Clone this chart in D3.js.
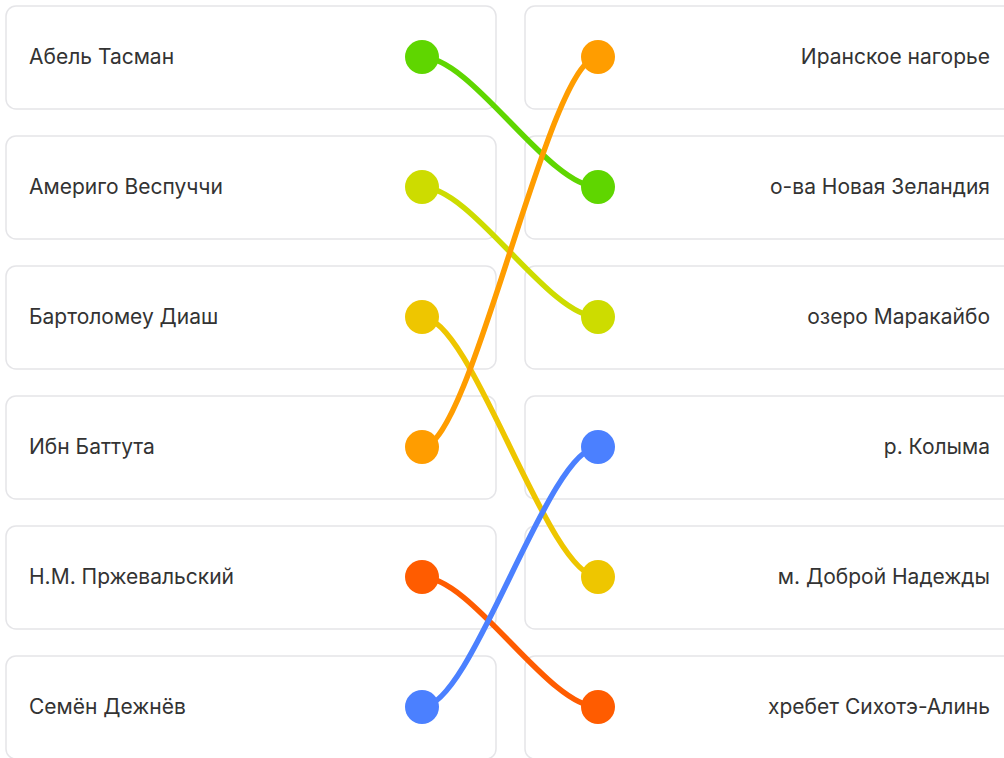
<!DOCTYPE html>
<html>
<head>
<meta charset="utf-8">
<script src="https://cdn.jsdelivr.net/npm/d3@7"></script>
<style>
  html, body { margin: 0; padding: 0; background: #fff; overflow: hidden; }
  svg { display: block; }
</style>
</head>
<body>
<svg id="chart" width="1004" height="758"></svg>
<script>
const leftItems = ["Абель Тасман", "Америго Веспуччи", "Бартоломеу Диаш", "Ибн Баттута", "Н.М. Пржевальский", "Семён Дежнёв"];
const rightItems = ["Иранское нагорье", "о-ва Новая Зеландия", "озеро Маракайбо", "р. Колыма", "м. Доброй Надежды", "хребет Сихотэ-Алинь"];
// matches: left index -> right index
const matches = [1, 2, 4, 0, 5, 3];
const matchColors = ["#5fd600", "#cddc00", "#eec600", "#ff9d00", "#ff5c00", "#4b80ff"];

const svg = d3.select("#chart");
const y = d3.scalePoint().domain(d3.range(leftItems.length)).range([57, 707]);
const boxH = 103, boxR = 10;
const leftBox = {x: 6, w: 490}, rightBox = {x: 525, w: 500};
const leftDotX = 422, rightDotX = 598, dotR = 17, ctrl = 50;

// boxes
const boxes = svg.append("g");
[leftBox, rightBox].forEach(b => {
  boxes.selectAll(null).data(d3.range(leftItems.length)).join("rect")
    .attr("x", b.x).attr("y", i => y(i) - boxH / 2 + 0.5)
    .attr("width", b.w).attr("height", boxH)
    .attr("rx", boxR).attr("ry", boxR)
    .attr("fill", "#fff").attr("stroke", "#e5e5e8").attr("stroke-width", 1.5);
});

// labels
svg.append("g").selectAll("text").data(leftItems).join("text")
  .attr("x", 29).attr("y", (d, i) => y(i)).attr("dy", "0.35em")
  .attr("font-family", "Inter, 'Noto Sans', sans-serif").attr("font-size", 21)
  .attr("fill", "#333").text(d => d);
svg.append("g").selectAll("text").data(rightItems).join("text")
  .attr("x", 990).attr("y", (d, i) => y(i)).attr("dy", "0.35em")
  .attr("text-anchor", "end")
  .attr("font-family", "Inter, 'Noto Sans', sans-serif").attr("font-size", 21)
  .attr("fill", "#333").text(d => d);

// links
svg.append("g").selectAll("path").data(matches).join("path")
  .attr("d", (r, i) => {
    const p = d3.path();
    const y1 = y(i), y2 = y(r);
    p.moveTo(leftDotX, y1);
    p.bezierCurveTo(leftDotX + ctrl, y1, rightDotX - ctrl, y2, rightDotX, y2);
    return p.toString();
  })
  .attr("fill", "none").attr("stroke", (r, i) => matchColors[i])
  .attr("stroke-width", 5.5).attr("stroke-linecap", "round");

// dots
svg.append("g").selectAll("circle").data(leftItems).join("circle")
  .attr("cx", leftDotX).attr("cy", (d, i) => y(i)).attr("r", dotR)
  .attr("fill", (d, i) => matchColors[i]);
svg.append("g").selectAll("circle").data(matches).join("circle")
  .attr("cx", rightDotX).attr("cy", (r) => y(r)).attr("r", dotR)
  .attr("fill", (r, i) => matchColors[i]);
</script>
</body>
</html>
